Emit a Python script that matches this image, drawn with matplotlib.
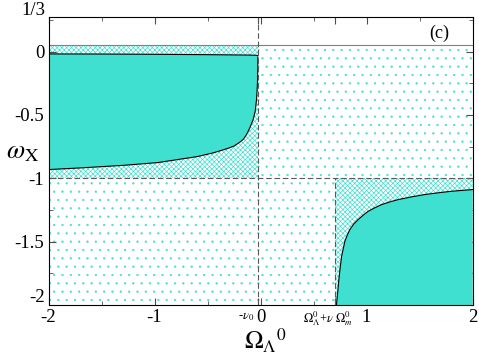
import numpy as np
import matplotlib
matplotlib.use('Agg')
import matplotlib.pyplot as plt

plt.rcParams['font.family'] = ['Liberation Serif', 'DejaVu Serif']
plt.rcParams['mathtext.fontset'] = 'stix'

TEAL = '#40E0D0'

# boundary lines
nu0 = -0.023          # -nu_0 position
x_cross = 0.70        # Omega_L + nu Omega_m
w_top = 0.053         # top of the coloured region

# left solid region: upper and lower boundary
left_up_x = [-2.0, -1.5, -1.0, -0.5, -0.1, -0.025]
left_up_y = [-0.018, -0.019, -0.021, -0.024, -0.027, -0.030]
left_lo_x = [-2.0, -1.70, -1.3, -0.97, -0.60, -0.45, -0.35, -0.29, -0.25, -0.195,
             -0.16, -0.132, -0.10, -0.07, -0.05, -0.038, -0.032, -0.028, -0.025]
left_lo_y = [-0.931, -0.918, -0.898, -0.876, -0.829, -0.800, -0.775, -0.758, -0.745, -0.715,
             -0.69, -0.655, -0.60, -0.538, -0.47, -0.38, -0.30, -0.223, -0.042]

# right solid region: upper boundary
right_x = [0.716, 0.728, 0.739, 0.752, 0.765, 0.796, 0.82, 0.843, 0.88, 0.922, 0.97, 1.016,
           1.08, 1.143, 1.22, 1.299, 1.42, 1.551, 1.68, 1.804, 2.0]
right_y = [-2.0, -1.90, -1.798, -1.70, -1.614, -1.496, -1.445, -1.404, -1.36, -1.325, -1.29,
           -1.260, -1.232, -1.207, -1.186, -1.168, -1.147, -1.128, -1.114, -1.102, -1.089]

xticks_major = [-2, -1, 0, 1, 2]
xtick_labels = ['-2', '-1', '0', '1', '2']
yticks_major = [0, -0.5, -1, -1.5]
ytick_labels = ['0', '-0.5', '-1', '-1.5']

fig = plt.figure(figsize=(4.79, 3.57), dpi=100)
ax = fig.add_axes([0.1013, 0.1457, 0.8852, 0.8076])
ax.set_xlim(-2, 2)
ax.set_ylim(-2.0, 0.276)

# dotted regions
with plt.rc_context({'hatch.linewidth': 0.4}):
    ax.fill_between([nu0, 2], -1, w_top, facecolor='white', edgecolor=TEAL,
                    linewidth=0, hatch='..', zorder=1)
    ax.fill_between([-2, x_cross], -2, -1, facecolor='white', edgecolor=TEAL,
                    linewidth=0, hatch='..', zorder=1)

# cross-hatched regions
with plt.rc_context({'hatch.linewidth': 0.5}):
    ax.fill_between([-2, nu0], -1, w_top, facecolor='white', edgecolor=TEAL,
                    linewidth=0, hatch='xxxxxxx', zorder=1)
    ax.fill_between([x_cross, 2], -2, -1, facecolor='white', edgecolor=TEAL,
                    linewidth=0, hatch='xxxxxxx', zorder=1)

# solid regions
lx = np.r_[left_up_x, left_lo_x[::-1]]
ly = np.r_[left_up_y, left_lo_y[::-1]]
ax.fill(lx, ly, color=TEAL, linewidth=0, zorder=2)
ax.plot(left_up_x, left_up_y, color='k', lw=0.8, zorder=3)
ax.plot(left_lo_x, left_lo_y, color='k', lw=0.8, zorder=3)

ax.fill(np.r_[right_x, 2], np.r_[right_y, -2], color=TEAL, linewidth=0, zorder=2)
ax.plot(right_x, right_y, color='k', lw=0.8, zorder=3)

# guide lines
ax.axhline(w_top, color='0.5', lw=0.8, zorder=3)
ax.axhline(-1, color='0.35', lw=0.8, ls=(0, (5, 2.5)), zorder=3)
ax.axvline(nu0, color='0.35', lw=0.8, ls=(0, (5, 2.5)), zorder=3)
ax.plot([x_cross, x_cross], [-2, -1], color='0.35', lw=0.8, ls=(0, (5, 2.5)), zorder=3)

# ticks
ax.set_xticks(xticks_major + [nu0, x_cross])
ax.set_xticklabels(xtick_labels + ['', ''], fontsize=13.5)
ax.set_xticks([-1.5, -0.5, 0.5, 1.5], minor=True)
ax.set_yticks(yticks_major)
ax.set_yticklabels(ytick_labels, fontsize=13.5)
ax.set_yticks([0.25, -0.25, -0.75, -1.25, -1.75], minor=True)
ax.tick_params(which='both', direction='in', top=True, right=True, color='0.3')
ax.tick_params(which='major', length=5, pad=3)
ax.tick_params(which='minor', length=3)
for s in ax.spines.values():
    s.set_zorder(5)

ax.text(-2.03, 0.325, '1/3', ha='right', va='center', fontsize=13.5, clip_on=False)
ax.text(-2.03, -1.94, '-2', ha='right', va='center', fontsize=13.5, clip_on=False)
ax.text(nu0 - 0.04, -2.04, r'-$\nu_0$', ha='right', va='top', fontsize=9)
ax.text(x_cross - 0.06, -2.035, r'$\Omega^0_\Lambda$+$\nu\ \Omega^0_m$', ha='center',
        va='top', fontsize=9)
ax.text(1.69, 0.147, '(c)', ha='center', va='center', fontsize=13)

fig.text(244 / 479, 1 - 350 / 357, r'$\Omega_{\Lambda}{}^{0}$', fontsize=18, va='baseline')
fig.text(6 / 479, 1 - 158 / 357, r'$\omega_{\rm X}$', fontsize=19, va='baseline')

fig.savefig('out.png', dpi=100)
